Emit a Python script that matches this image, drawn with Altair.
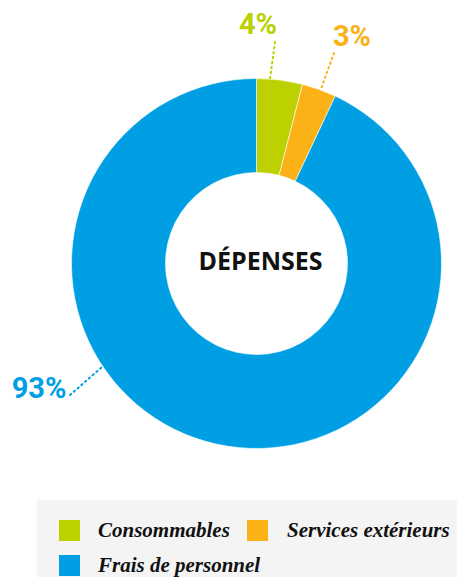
import altair as alt
import pandas as pd

# ---- data ----
categories = ["Consommables", "Services extérieurs", "Frais de personnel"]
values = [4, 3, 93]
labels = ["4%", "3%", "93%"]
colors = ["#bdd000", "#fbb216", "#009fe3"]
center_title = "DÉPENSES"

df = pd.DataFrame({"categorie": categories, "valeur": values, "ordre": [0, 1, 2], "label": labels})

# ---- layout (pixel geometry, chart coordinates) ----
W, H = 449, 569
CX, CY = 248.5, 255.5
R_OUT, R_IN = 185, 91
label_pos = [(250, 26), (344, 38), (31, 390)]   # alphabetic baselines
leader = [((267, 34), (262, 71)), ((326, 45), (313, 81)), ((62, 387), (94, 359))]
legend_sym = [(61.5, 522.5), (249.5, 522.5), (61.5, 557.5)]
legend_txt = [(90, 522.5), (279, 522.5), (90, 557.5)]

color_scale = alt.Scale(domain=categories, range=colors)

bg = alt.Chart(df.iloc[[0]]).mark_rect(color="#f4f4f4").encode(
    x=alt.value(29), x2=alt.value(W + 5), y=alt.value(492), y2=alt.value(H + 5)
)

donut = alt.Chart(df).mark_arc(stroke="white", strokeWidth=0.6).encode(
    theta=alt.Theta("valeur:Q", stack=True),
    order=alt.Order("ordre:Q"),
    color=alt.Color("categorie:N", scale=color_scale, legend=None),
    x=alt.value(CX),
    y=alt.value(CY),
    radius=alt.value(R_OUT),
    radius2=alt.value(R_IN),
)

center = alt.Chart(df.iloc[[0]]).mark_text(
    text=center_title, font="Open Sans", fontWeight="bold", fontSize=25,
    color="#111111", align="center", baseline="middle"
).encode(x=alt.value(CX + 4), y=alt.value(CY - 2))

layers = [bg, donut, center]
for i, cat in enumerate(categories):
    (x1, y1), (x2, y2) = leader[i]
    layers.append(
        alt.Chart(df.iloc[[i]]).mark_rule(
            color=colors[i], strokeWidth=2, strokeDash=[1.5, 3.5], strokeCap="round"
        ).encode(x=alt.value(x1), y=alt.value(y1), x2=alt.value(x2), y2=alt.value(y2))
    )
    lx, ly = label_pos[i]
    layers.append(
        alt.Chart(df.iloc[[i]]).mark_text(
            font="Roboto", fontWeight="bold", fontSize=29, color=colors[i],
            align="center", baseline="alphabetic"
        ).encode(text="label:N", x=alt.value(lx), y=alt.value(ly))
    )
    sx, sy = legend_sym[i]
    layers.append(
        alt.Chart(df.iloc[[i]]).mark_square(size=441, opacity=1).encode(
            x=alt.value(sx), y=alt.value(sy),
            color=alt.Color("categorie:N", scale=color_scale, legend=None),
        )
    )
    tx, ty = legend_txt[i]
    layers.append(
        alt.Chart(df.iloc[[i]]).mark_text(
            font="Liberation Serif", fontStyle="italic", fontWeight="bold", fontSize=21,
            color="#111111", align="left", baseline="middle"
        ).encode(text="categorie:N", x=alt.value(tx), y=alt.value(ty))
    )

chart = alt.layer(*layers).properties(
    width=W, height=H, autosize=alt.AutoSizeParams(type="none"), padding=0
).configure_view(stroke=None)

chart.save("out.html", embed_options={"renderer": "svg", "actions": False})
